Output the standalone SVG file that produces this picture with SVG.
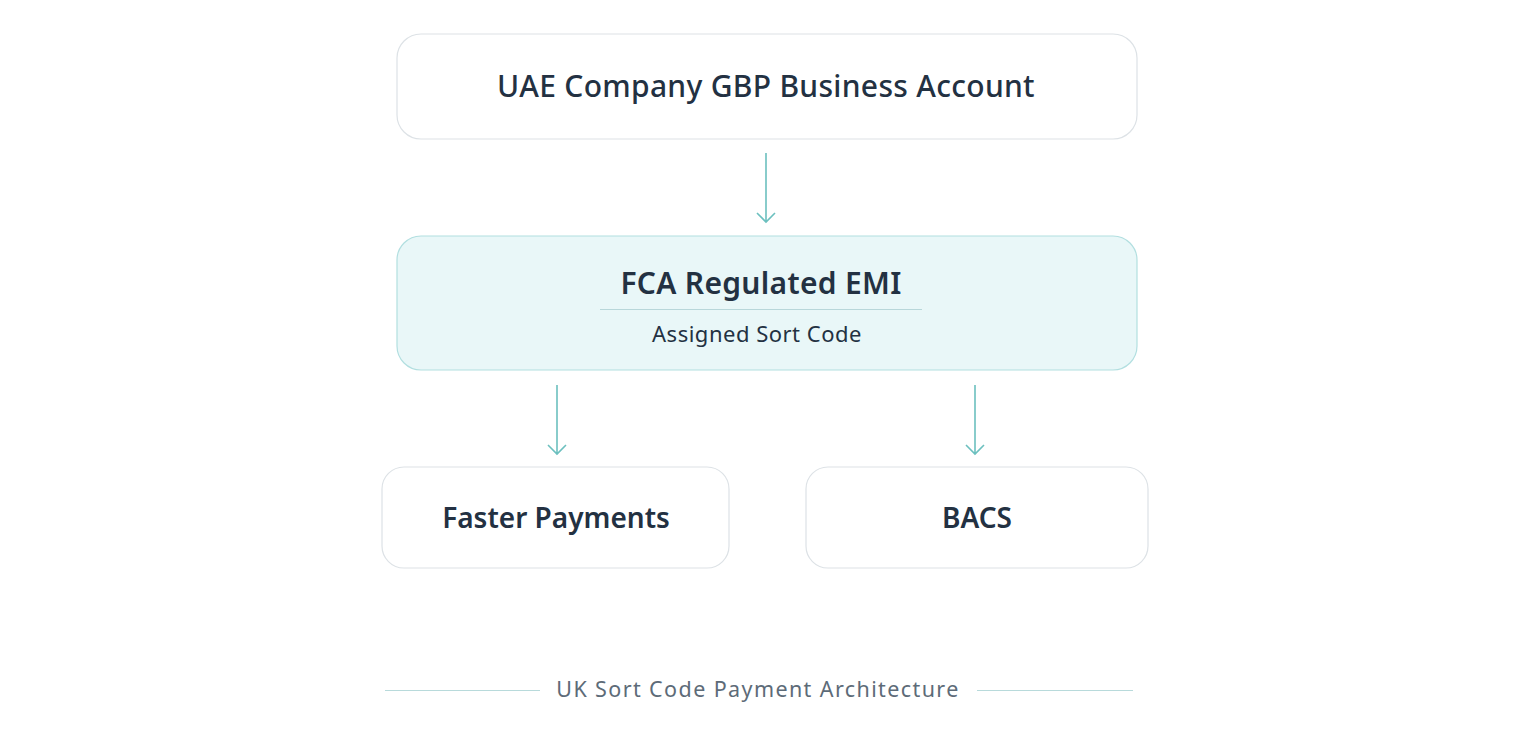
<svg xmlns="http://www.w3.org/2000/svg" width="1536" height="743" viewBox="0 0 1536 743">
<style>
.box{fill:#fff;stroke:#dde2e6;stroke-width:1.2}
.t{font-family:"Noto Sans",sans-serif;fill:#233142;text-anchor:middle}
.c{stroke:#6cc0bf;stroke-width:1.6;fill:none}
</style>
<rect width="1536" height="743" fill="#fff"/>
<g id="n1"><rect class="box" x="397" y="34" width="740" height="105" rx="24"/>
<text class="t" x="766" y="97" font-size="30" font-weight="500" letter-spacing="0.3">UAE Company GBP Business Account</text></g>
<g id="n2"><rect x="397" y="236" width="740" height="134" rx="24" fill="#e9f7f8" stroke="#b2dfe0" stroke-width="1.2"/>
<text class="t" x="761" y="294" font-size="30" font-weight="600" letter-spacing="0.3">FCA Regulated EMI</text>
<line x1="600" y1="309.5" x2="922" y2="309.5" stroke="#b8d7da" stroke-width="1"/>
<text class="t" x="757" y="342" font-size="22" letter-spacing="0.5">Assigned Sort Code</text></g>
<g id="n3"><rect class="box" x="382" y="467" width="347" height="101" rx="22"/>
<text class="t" x="556" y="528" font-size="28" font-weight="600">Faster Payments</text></g>
<g id="n4"><rect class="box" x="806" y="467" width="342" height="101" rx="22"/>
<text class="t" x="977" y="528" font-size="28" font-weight="600">BACS</text></g>
<g id="connectors">
<path class="c" d="M766 153V222M757 213L766 222L775 213"/>
<path class="c" d="M557 385V454M548 445L557 454L566 445"/>
<path class="c" d="M975 385V454M966 445L975 454L984 445"/>
</g>
<g id="footer">
<line x1="385" y1="690.5" x2="540" y2="690.5" stroke="#b8dadb" stroke-width="1.2"/>
<line x1="977" y1="690.5" x2="1133" y2="690.5" stroke="#b8dadb" stroke-width="1.2"/>
<text x="758" y="697" font-size="21.5" font-family="Noto Sans,sans-serif" fill="#5d6b78" text-anchor="middle" letter-spacing="1.4">UK Sort Code Payment Architecture</text>
</g>
</svg>
